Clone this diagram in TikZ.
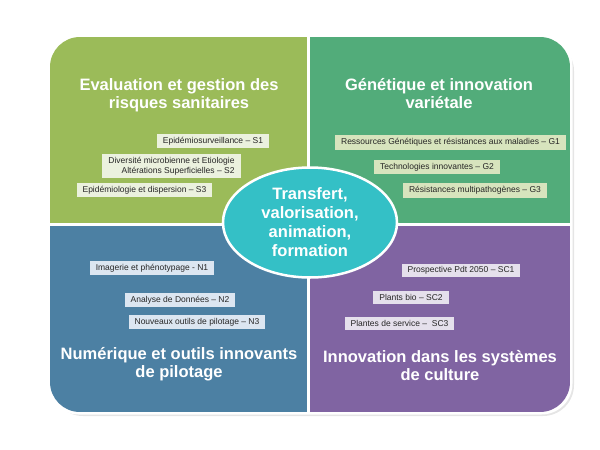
\documentclass[tikz,border=0pt]{standalone}
\usepackage{fontspec}
\setmainfont{Liberation Sans}
\usetikzlibrary{shapes.geometric}

\definecolor{risque}{RGB}{155,187,89}
\definecolor{genetique}{RGB}{82,172,122}
\definecolor{numerique}{RGB}{76,128,163}
\definecolor{culture}{RGB}{128,100,162}
\definecolor{hubcyan}{RGB}{52,192,198}
\definecolor{risquelight}{RGB}{235,241,222}
\definecolor{genetiquelight}{RGB}{215,228,189}
\definecolor{numeriquelight}{RGB}{220,230,241}
\definecolor{culturelight}{RGB}{229,224,236}

\tikzset{
  theme/.style={text=white, align=center, font=\fontsize{16.5}{18}\selectfont\bfseries},
  topic/.style={fill=#1, text=black!85, inner xsep=6pt, inner ysep=3pt, font=\fontsize{8.5}{10}\selectfont},
  hub/.style={ellipse, fill=hubcyan, draw=white, line width=2.5pt, minimum width=174pt, minimum height=110pt,
    inner sep=0pt, text=white, align=center, font=\fontsize{16.5}{19}\selectfont\bfseries}
}

\begin{document}
\begin{tikzpicture}[x=1pt,y=-1pt]
  \useasboundingbox (0,0) rectangle (600,450);

  % Draw soft shadow and white rim round the panel
  \fill[black!10, rounded corners=31pt] (52,40) rectangle (574,416);
  \fill[white, rounded corners=31pt] (47.5,34.5) rectangle (572.5,414.5);

  % Draw the four quadrants, outer corners rounded
  \begin{scope}
    \clip[rounded corners=30pt] (50,37) rectangle (570,412);
    \fill[risque] (50,37) rectangle (307,223);
    \fill[genetique] (310,37) rectangle (570,223);
    \fill[numerique] (50,225.5) rectangle (307,412);
    \fill[culture] (310,225.5) rectangle (570,412);
  \end{scope}

  % Draw quadrant titles
  \node[theme] (risques) at (179,95.5) {Evaluation et gestion des\\risques sanitaires};
  \node[theme] (genetique) at (439,94) {Génétique et innovation\\variétale};
  \node[theme] (numerique) at (179,364) {Numérique et outils innovants\\de pilotage};
  \node[theme] (culture) at (440,366) {Innovation dans les systèmes\\de culture};

  % Draw topic boxes of each quadrant
  \node[topic=risquelight] (s1) at (213,141) {Epidémiosurveillance – S1};
  \node[topic=risquelight, align=right] (s2) at (171.5,166) {Diversité microbienne et Etiologie\\Altérations Superficielles – S2};
  \node[topic=risquelight] (s3) at (144.5,190) {Epidémiologie et dispersion – S3};

  \node[topic=genetiquelight] (g1) at (450.5,142.5) {Ressources Génétiques et résistances aux maladies – G1};
  \node[topic=genetiquelight] (g2) at (437,167) {Technologies innovantes – G2};
  \node[topic=genetiquelight] (g3) at (475,190.5) {Résistances multipathogènes – G3};

  \node[topic=numeriquelight] (n1) at (152,268) {Imagerie et phénotypage - N1};
  \node[topic=numeriquelight] (n2) at (180,300) {Analyse de Données – N2};
  \node[topic=numeriquelight] (n3) at (197,322) {Nouveaux outils de pilotage – N3};

  \node[topic=culturelight] (sc1) at (461,270.5) {Prospective Pdt 2050 – SC1};
  \node[topic=culturelight] (sc2) at (411,297.5) {Plants bio – SC2};
  \node[topic=culturelight] (sc3) at (399.5,323.5) {Plantes de service –\ \ SC3};

  % Draw central ellipse
  \node[hub] (transfert) at (310,222.5) {Transfert,\\valorisation,\\animation,\\formation};

\end{tikzpicture}
\end{document}
